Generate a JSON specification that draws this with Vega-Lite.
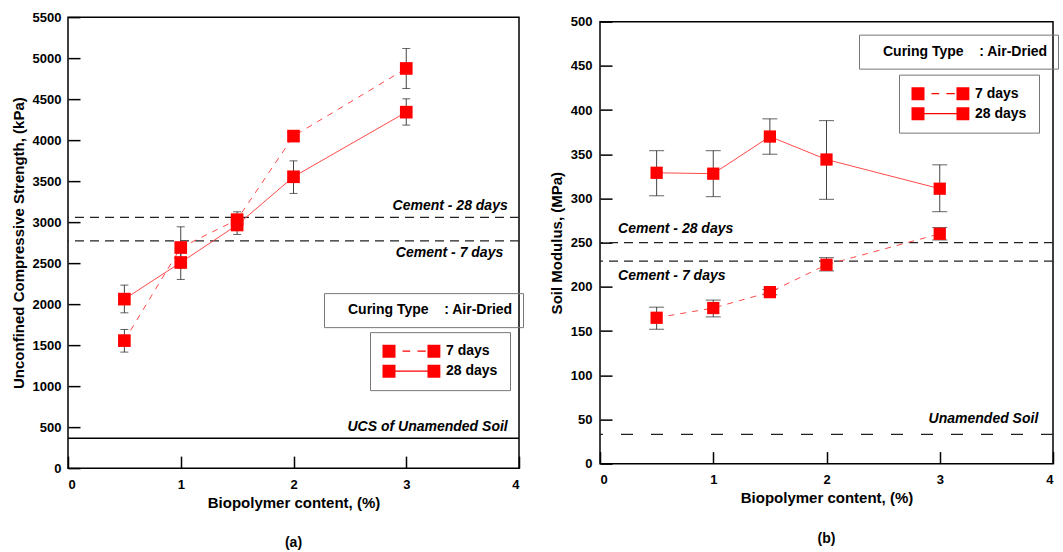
{
  "$schema": "https://vega.github.io/schema/vega-lite/v6.json",
  "background": "white",
  "padding": {"left": 10, "top": 10, "right": 5, "bottom": 5},
  "spacing": 23,
  "center": true,
  "datasets": {
    "pts": [
      {"panel": "a", "series": "7 days", "content": 0.5, "value": 1555, "lo": 1415, "hi": 1691},
      {"panel": "a", "series": "7 days", "content": 1, "value": 2690, "lo": 2440, "hi": 2943},
      {"panel": "a", "series": "7 days", "content": 1.5, "value": 3030, "lo": 2940, "hi": 3126},
      {"panel": "a", "series": "7 days", "content": 2, "value": 4049, "lo": 4016, "hi": 4082},
      {"panel": "a", "series": "7 days", "content": 3, "value": 4874, "lo": 4630, "hi": 5117},
      {"panel": "a", "series": "28 days", "content": 0.5, "value": 2061, "lo": 1894, "hi": 2232},
      {"panel": "a", "series": "28 days", "content": 1, "value": 2508, "lo": 2301, "hi": 2720},
      {"panel": "a", "series": "28 days", "content": 1.5, "value": 2965, "lo": 2850, "hi": 3080},
      {"panel": "a", "series": "28 days", "content": 2, "value": 3553, "lo": 3350, "hi": 3747},
      {"panel": "a", "series": "28 days", "content": 3, "value": 4341, "lo": 4183, "hi": 4504},
      {"panel": "b", "series": "7 days", "content": 0.5, "value": 165, "lo": 152, "hi": 177},
      {"panel": "b", "series": "7 days", "content": 1, "value": 176, "lo": 166, "hi": 185},
      {"panel": "b", "series": "7 days", "content": 1.5, "value": 194, "lo": 191, "hi": 197},
      {"panel": "b", "series": "7 days", "content": 2, "value": 225, "lo": 218, "hi": 233},
      {"panel": "b", "series": "7 days", "content": 3, "value": 260, "lo": 253, "hi": 267},
      {"panel": "b", "series": "28 days", "content": 0.5, "value": 329, "lo": 303, "hi": 354},
      {"panel": "b", "series": "28 days", "content": 1, "value": 328, "lo": 302, "hi": 354},
      {"panel": "b", "series": "28 days", "content": 1.5, "value": 370, "lo": 350, "hi": 390},
      {"panel": "b", "series": "28 days", "content": 2, "value": 344, "lo": 299, "hi": 388},
      {"panel": "b", "series": "28 days", "content": 3, "value": 311, "lo": 285, "hi": 338}
    ],
    "refs": [
      {"panel": "a", "label": "Cement - 28 days", "value": 3057, "kind": "dashed"},
      {"panel": "a", "label": "Cement - 7 days", "value": 2772, "kind": "dashed"},
      {"panel": "a", "label": "UCS of Unamended Soil", "value": 365, "kind": "solid"},
      {"panel": "b", "label": "Cement - 28 days", "value": 250, "kind": "dashed"},
      {"panel": "b", "label": "Cement - 7 days", "value": 229, "kind": "dashed"},
      {"panel": "b", "label": "Unamended Soil", "value": 33, "kind": "longdash"}
    ],
    "info": [
      {"panel": "a", "curing": "Air-Dried"},
      {"panel": "b", "curing": "Air-Dried"}
    ]
  },
  "resolve": {
    "scale": {"shape": "independent", "fill": "independent"},
    "legend": {"shape": "independent", "fill": "independent"}
  },
  "hconcat": [
    {
      "width": 451,
      "height": 451,
      "title": {"text": "(a)", "orient": "bottom", "offset": 26, "fontSize": 14, "fontWeight": "bold", "font": "Liberation Sans", "color": "black"},
      "layer": [
        {
          "data": {"name": "refs"},
          "transform": [{"filter": "datum.panel === 'a' && datum.kind === 'dashed'"}],
          "mark": {"type": "rule", "color": "#222", "strokeWidth": 1.2, "strokeDash": [9, 6]},
          "encoding": {"y": {"field": "value", "type": "quantitative"}}
        },
        {
          "data": {"name": "refs"},
          "transform": [{"filter": "datum.panel === 'a' && datum.kind === 'solid'"}],
          "mark": {"type": "rule", "color": "black", "strokeWidth": 1.5},
          "encoding": {"y": {"field": "value", "type": "quantitative"}}
        },
        {
          "data": {"name": "refs"},
          "transform": [{"filter": "datum.panel === 'a' && datum.label !== 'Cement - 7 days'"}],
          "mark": {"type": "text", "align": "right", "baseline": "bottom", "dy": -4, "font": "Liberation Sans", "fontStyle": "italic", "fontWeight": "bold", "fontSize": 14, "color": "black"},
          "encoding": {
            "x": {"datum": 3.9, "type": "quantitative"},
            "y": {"field": "value", "type": "quantitative"},
            "text": {"field": "label"}
          }
        },
        {
          "data": {"name": "refs"},
          "transform": [{"filter": "datum.panel === 'a' && datum.label === 'Cement - 7 days'"}],
          "mark": {"type": "text", "align": "right", "baseline": "top", "dy": 5, "font": "Liberation Sans", "fontStyle": "italic", "fontWeight": "bold", "fontSize": 14, "color": "black"},
          "encoding": {
            "x": {"datum": 3.86, "type": "quantitative"},
            "y": {"field": "value", "type": "quantitative"},
            "text": {"field": "label"}
          }
        },
        {
          "data": {"name": "pts"},
          "transform": [{"filter": "datum.panel === 'a'"}],
          "mark": {"type": "rule", "color": "#444", "strokeWidth": 1},
          "encoding": {
            "x": {"field": "content", "type": "quantitative"},
            "y": {"field": "lo", "type": "quantitative"},
            "y2": {"field": "hi"}
          }
        },
        {
          "data": {"name": "pts"},
          "transform": [{"filter": "datum.panel === 'a'"}],
          "mark": {"type": "tick", "orient": "horizontal", "color": "#222", "size": 8, "thickness": 1},
          "encoding": {
            "x": {"field": "content", "type": "quantitative"},
            "y": {"field": "lo", "type": "quantitative"}
          }
        },
        {
          "data": {"name": "pts"},
          "transform": [{"filter": "datum.panel === 'a'"}],
          "mark": {"type": "tick", "orient": "horizontal", "color": "#222", "size": 8, "thickness": 1},
          "encoding": {
            "x": {"field": "content", "type": "quantitative"},
            "y": {"field": "hi", "type": "quantitative"}
          }
        },
        {
          "data": {"name": "pts"},
          "transform": [{"filter": "datum.panel === 'a' && datum.series === '7 days'"}],
          "mark": {"type": "line", "color": "#ff4a4a", "strokeWidth": 1, "strokeDash": [6, 6]},
          "encoding": {
            "x": {"field": "content", "type": "quantitative"},
            "y": {"field": "value", "type": "quantitative"}
          }
        },
        {
          "data": {"name": "pts"},
          "transform": [{"filter": "datum.panel === 'a' && datum.series === '28 days'"}],
          "mark": {"type": "line", "color": "#ff4a4a", "strokeWidth": 1},
          "encoding": {
            "x": {"field": "content", "type": "quantitative"},
            "y": {"field": "value", "type": "quantitative"}
          }
        },
        {
          "data": {"name": "pts"},
          "transform": [{"filter": "datum.panel === 'a'"}],
          "mark": {"type": "point", "shape": "square", "filled": true, "size": 160, "color": "#ff0000", "opacity": 1},
          "encoding": {
            "x": {
              "field": "content", "type": "quantitative",
              "scale": {"domain": [0, 4], "nice": false, "zero": false},
              "axis": {
                "title": "Biopolymer content, (%)",
                "values": [0, 0.5, 1, 1.5, 2, 2.5, 3, 3.5, 4],
                "format": "d",
                "labelExpr": "datum.value % 1 === 0 ? datum.label : ''",
                "domain": false,
                "offset": -12,
                "tickSize": 12,
                "tickColor": "black",
                "tickWidth": 1.5,
                "labelPadding": 10,
                "titlePadding": 4
              }
            },
            "y": {
              "field": "value", "type": "quantitative",
              "scale": {"domain": [0, 5500], "nice": false},
              "axis": {
                "title": "Unconfined Compressive Strength, (kPa)",
                "values": [0, 250, 500, 750, 1000, 1250, 1500, 1750, 2000, 2250, 2500, 2750, 3000, 3250, 3500, 3750, 4000, 4250, 4500, 4750, 5000, 5250, 5500],
                "format": "d",
                "labelExpr": "datum.value % 500 === 0 ? datum.label : ''",
                "domain": false,
                "offset": -12,
                "tickSize": 12,
                "tickColor": "black",
                "tickWidth": 1.5,
                "labelPadding": 7,
                "titlePadding": 6
              }
            }
          }
        },
        {
          "data": {"name": "pts"},
          "transform": [{"filter": "datum.panel === 'a'"}],
          "mark": {"type": "point", "filled": true, "opacity": 0, "color": "#ff0000"},
          "encoding": {
            "x": {"field": "content", "type": "quantitative"},
            "y": {"field": "value", "type": "quantitative"},
            "shape": {
              "field": "series", "type": "nominal",
              "scale": {
                "domain": ["7 days", "28 days"],
                "range": [
                  "M-1,-1H1V1H-1Z M2.08,-0.08H3.26V0.08H2.08Z M4.38,-0.08H5.66V0.08H4.38Z M5.92,-1H7.9V1H5.92Z",
                  "M-1,-1H1V1H-1Z M1,-0.08H5.92V0.08H1Z M5.92,-1H7.9V1H5.92Z"
                ]
              },
              "legend": {
                "title": null, "orient": "none", "legendX": 302, "legendY": 315,
                "symbolSize": 169, "symbolFillColor": "#ff0000", "symbolStrokeWidth": 0, "symbolOpacity": 1,
                "labelOffset": 50, "labelFontSize": 14, "labelFont": "Liberation Sans", "labelFontWeight": "bold", "labelColor": "black",
                "strokeColor": "#777", "padding": 12, "rowPadding": 6
              }
            }
          }
        },
        {
          "data": {"name": "info"},
          "transform": [{"filter": "datum.panel === 'a'"}],
          "mark": {"type": "point", "filled": true, "opacity": 0},
          "encoding": {
            "fill": {
              "field": "curing", "type": "nominal",
              "scale": {"range": ["transparent"]},
              "legend": {
                "title": null, "orient": "none", "legendX": 256, "legendY": 276,
                "symbolSize": 0, "symbolOpacity": 0, "labelOffset": 0, "labelLimit": 400,
                "labelExpr": "'Curing Type\u00a0\u00a0\u00a0\u00a0: ' + datum.label",
                "labelFontSize": 14, "labelFont": "Liberation Sans", "labelFontWeight": "bold", "labelColor": "black",
                "strokeColor": "#777", "padding": 10
              }
            }
          }
        }
      ]
    },
    {
      "width": 453,
      "height": 442,
      "title": {"text": "(b)", "orient": "bottom", "offset": 26, "fontSize": 14, "fontWeight": "bold", "font": "Liberation Sans", "color": "black"},
      "layer": [
        {
          "data": {"name": "refs"},
          "transform": [{"filter": "datum.panel === 'b' && datum.kind === 'dashed'"}],
          "mark": {"type": "rule", "color": "#222", "strokeWidth": 1.2, "strokeDash": [9, 6]},
          "encoding": {"y": {"field": "value", "type": "quantitative"}}
        },
        {
          "data": {"name": "refs"},
          "transform": [{"filter": "datum.panel === 'b' && datum.kind === 'longdash'"}],
          "mark": {"type": "rule", "color": "#222", "strokeWidth": 1.2, "strokeDash": [12, 18]},
          "encoding": {"y": {"field": "value", "type": "quantitative"}}
        },
        {
          "data": {"name": "refs"},
          "transform": [{"filter": "datum.panel === 'b' && datum.label === 'Cement - 28 days'"}],
          "mark": {"type": "text", "align": "left", "baseline": "bottom", "dy": -7, "font": "Liberation Sans", "fontStyle": "italic", "fontWeight": "bold", "fontSize": 14, "color": "black"},
          "encoding": {
            "x": {"datum": 0.16, "type": "quantitative"},
            "y": {"field": "value", "type": "quantitative"},
            "text": {"field": "label"}
          }
        },
        {
          "data": {"name": "refs"},
          "transform": [{"filter": "datum.panel === 'b' && datum.label === 'Cement - 7 days'"}],
          "mark": {"type": "text", "align": "left", "baseline": "top", "dy": 8, "font": "Liberation Sans", "fontStyle": "italic", "fontWeight": "bold", "fontSize": 14, "color": "black"},
          "encoding": {
            "x": {"datum": 0.16, "type": "quantitative"},
            "y": {"field": "value", "type": "quantitative"},
            "text": {"field": "label"}
          }
        },
        {
          "data": {"name": "refs"},
          "transform": [{"filter": "datum.panel === 'b' && datum.label === 'Unamended Soil'"}],
          "mark": {"type": "text", "align": "right", "baseline": "bottom", "dy": -8, "font": "Liberation Sans", "fontStyle": "italic", "fontWeight": "bold", "fontSize": 14, "color": "black"},
          "encoding": {
            "x": {"datum": 3.87, "type": "quantitative"},
            "y": {"field": "value", "type": "quantitative"},
            "text": {"field": "label"}
          }
        },
        {
          "data": {"name": "pts"},
          "transform": [{"filter": "datum.panel === 'b'"}],
          "mark": {"type": "rule", "color": "#444", "strokeWidth": 1},
          "encoding": {
            "x": {"field": "content", "type": "quantitative"},
            "y": {"field": "lo", "type": "quantitative"},
            "y2": {"field": "hi"}
          }
        },
        {
          "data": {"name": "pts"},
          "transform": [{"filter": "datum.panel === 'b'"}],
          "mark": {"type": "tick", "orient": "horizontal", "color": "#222", "size": 15, "thickness": 1},
          "encoding": {
            "x": {"field": "content", "type": "quantitative"},
            "y": {"field": "lo", "type": "quantitative"}
          }
        },
        {
          "data": {"name": "pts"},
          "transform": [{"filter": "datum.panel === 'b'"}],
          "mark": {"type": "tick", "orient": "horizontal", "color": "#222", "size": 15, "thickness": 1},
          "encoding": {
            "x": {"field": "content", "type": "quantitative"},
            "y": {"field": "hi", "type": "quantitative"}
          }
        },
        {
          "data": {"name": "pts"},
          "transform": [{"filter": "datum.panel === 'b' && datum.series === '7 days'"}],
          "mark": {"type": "line", "color": "#ff4a4a", "strokeWidth": 1, "strokeDash": [6, 6]},
          "encoding": {
            "x": {"field": "content", "type": "quantitative"},
            "y": {"field": "value", "type": "quantitative"}
          }
        },
        {
          "data": {"name": "pts"},
          "transform": [{"filter": "datum.panel === 'b' && datum.series === '28 days'"}],
          "mark": {"type": "line", "color": "#ff4a4a", "strokeWidth": 1},
          "encoding": {
            "x": {"field": "content", "type": "quantitative"},
            "y": {"field": "value", "type": "quantitative"}
          }
        },
        {
          "data": {"name": "pts"},
          "transform": [{"filter": "datum.panel === 'b'"}],
          "mark": {"type": "point", "shape": "square", "filled": true, "size": 150, "color": "#ff0000", "opacity": 1},
          "encoding": {
            "x": {
              "field": "content", "type": "quantitative",
              "scale": {"domain": [0, 4], "nice": false, "zero": false},
              "axis": {
                "title": "Biopolymer content, (%)",
                "values": [0, 0.5, 1, 1.5, 2, 2.5, 3, 3.5, 4],
                "format": "d",
                "labelExpr": "datum.value % 1 === 0 ? datum.label : ''",
                "domain": false,
                "offset": -12,
                "tickSize": 12,
                "tickColor": "black",
                "tickWidth": 1.5,
                "labelPadding": 10,
                "titlePadding": 4
              }
            },
            "y": {
              "field": "value", "type": "quantitative",
              "scale": {"domain": [0, 500], "nice": false},
              "axis": {
                "title": "Soil Modulus, (MPa)",
                "values": [0, 25, 50, 75, 100, 125, 150, 175, 200, 225, 250, 275, 300, 325, 350, 375, 400, 425, 450, 475, 500],
                "format": "d",
                "labelExpr": "datum.value % 50 === 0 ? datum.label : ''",
                "domain": false,
                "offset": -12,
                "tickSize": 12,
                "tickColor": "black",
                "tickWidth": 1.5,
                "labelPadding": 8,
                "titlePadding": 6
              }
            }
          }
        },
        {
          "data": {"name": "pts"},
          "transform": [{"filter": "datum.panel === 'b'"}],
          "mark": {"type": "point", "filled": true, "opacity": 0, "color": "#ff0000"},
          "encoding": {
            "x": {"field": "content", "type": "quantitative"},
            "y": {"field": "value", "type": "quantitative"},
            "shape": {
              "field": "series", "type": "nominal",
              "scale": {
                "domain": ["7 days", "28 days"],
                "range": [
                  "M-1,-1H1V1H-1Z M2.08,-0.08H3.26V0.08H2.08Z M4.38,-0.08H5.66V0.08H4.38Z M5.92,-1H7.9V1H5.92Z",
                  "M-1,-1H1V1H-1Z M1,-0.08H5.92V0.08H1Z M5.92,-1H7.9V1H5.92Z"
                ]
              },
              "legend": {
                "title": null, "orient": "none", "legendX": 299, "legendY": 53,
                "symbolSize": 169, "symbolFillColor": "#ff0000", "symbolStrokeWidth": 0, "symbolOpacity": 1,
                "labelOffset": 50, "labelFontSize": 14, "labelFont": "Liberation Sans", "labelFontWeight": "bold", "labelColor": "black",
                "strokeColor": "#777", "padding": 12, "rowPadding": 6
              }
            }
          }
        },
        {
          "data": {"name": "info"},
          "transform": [{"filter": "datum.panel === 'b'"}],
          "mark": {"type": "point", "filled": true, "opacity": 0},
          "encoding": {
            "fill": {
              "field": "curing", "type": "nominal",
              "scale": {"range": ["transparent"]},
              "legend": {
                "title": null, "orient": "none", "legendX": 259, "legendY": 13,
                "symbolSize": 0, "symbolOpacity": 0, "labelOffset": 0, "labelLimit": 400,
                "labelExpr": "'Curing Type\u00a0\u00a0\u00a0\u00a0: ' + datum.label",
                "labelFontSize": 14, "labelFont": "Liberation Sans", "labelFontWeight": "bold", "labelColor": "black",
                "strokeColor": "#777", "padding": 10
              }
            }
          }
        }
      ]
    }
  ],
  "config": {
    "view": {"stroke": "black", "strokeWidth": 1.5},
    "axis": {
      "grid": false,
      "domainColor": "black",
      "domainWidth": 1.5,
      "labelFont": "Liberation Sans",
      "labelFontWeight": "bold",
      "labelFontSize": 13,
      "labelColor": "black",
      "titleFont": "Liberation Sans",
      "titleFontWeight": "bold",
      "titleFontSize": 15,
      "titleColor": "black"
    }
  }
}
